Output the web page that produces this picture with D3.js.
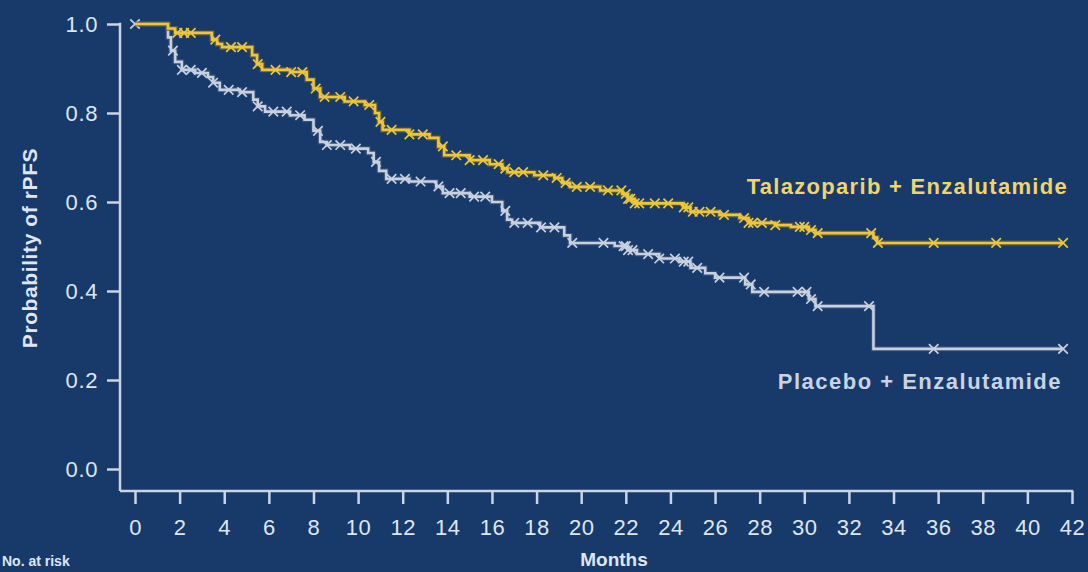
<!DOCTYPE html>
<html>
<head>
<meta charset="utf-8">
<script src="https://cdn.jsdelivr.net/npm/d3@7"></script>
<style>
  html, body { margin: 0; padding: 0; background: #173a6b; }
  svg { display: block; }
  text { font-family: "Liberation Sans", Arial, sans-serif; }
</style>
</head>
<body>
<svg id="chart" width="1088" height="572"></svg>
<script>
// Axis ticks
const monthTicks = d3.range(0, 43, 2);
const probTicks = [0.0, 0.2, 0.4, 0.6, 0.8, 1.0];

// Talazoparib + Enzalutamide: event times (months) and survival after each event
const talaEventMonths = [1.48, 1.8, 3.45, 3.68, 3.9, 5.25, 5.47, 5.7, 6.95, 7.7, 8.0, 8.3, 9.4, 10.3,
  10.76, 10.94, 11.1, 12.3, 13.2, 13.6, 13.86, 15.0, 15.9, 16.46, 16.7, 17.9, 18.8, 19.15, 19.5,
  20.85, 21.84, 22.1, 22.4, 24.57, 24.9, 26.2, 27.1, 27.5, 28.7, 29.4, 30.2, 30.5, 33.1, 33.27];
const talaSurvival = [0.99, 0.98, 0.965, 0.955, 0.948, 0.93, 0.91, 0.897, 0.892, 0.875, 0.855, 0.836, 0.826, 0.818,
  0.80, 0.78, 0.762, 0.752, 0.744, 0.725, 0.705, 0.694, 0.685, 0.675, 0.667, 0.66, 0.654, 0.643, 0.634,
  0.626, 0.618, 0.607, 0.597, 0.588, 0.578, 0.571, 0.564, 0.553, 0.548, 0.544, 0.537, 0.530, 0.520, 0.508];
const talaCensorMonths = [1.9, 2.2, 2.5, 3.6, 4.3, 4.8, 5.5, 6.3, 7.0, 7.5, 8.1, 8.5, 9.2, 9.8, 10.5, 11.0,
  11.5, 12.3, 12.9, 13.8, 14.4, 15.0, 15.6, 16.3, 16.6, 17.0, 17.4, 18.3, 18.9, 19.3, 19.8, 20.4, 21.2,
  21.8, 22.0, 22.1, 22.2, 22.4, 22.6, 23.3, 23.9, 24.6, 24.8, 25.0, 25.3, 25.8, 26.4, 27.3, 27.5, 27.7,
  28.1, 28.7, 29.8, 30.0, 30.3, 30.6, 33.0, 33.3, 35.8, 38.6, 41.6];

// Placebo + Enzalutamide
const placEventMonths = [1.48, 1.61, 1.8, 2.1, 2.7, 3.27, 3.5, 3.8, 4.7, 5.3, 5.5, 5.83, 6.95, 7.6, 8.0, 8.3,
  8.6, 9.64, 10.45, 10.7, 10.94, 11.26, 12.3, 13.5, 13.8, 15.0, 16.0, 16.46, 16.68, 16.9, 18.16, 19.24,
  19.5, 21.5, 22.1, 22.5, 23.5, 24.4, 24.9, 25.56, 26.0, 27.35, 27.67, 30.2, 30.5, 33.1];
const placSurvival = [0.97, 0.94, 0.915, 0.897, 0.89, 0.881, 0.868, 0.852, 0.847, 0.83, 0.815, 0.803, 0.795, 0.785, 0.76, 0.735,
  0.728, 0.72, 0.71, 0.69, 0.67, 0.652, 0.646, 0.635, 0.62, 0.612, 0.60, 0.58, 0.56, 0.553, 0.543, 0.525,
  0.508, 0.501, 0.492, 0.483, 0.473, 0.466, 0.452, 0.44, 0.43, 0.415, 0.398, 0.382, 0.366, 0.270];
const placCensorMonths = [0, 1.7, 2.1, 2.5, 3.0, 3.5, 4.2, 4.8, 5.5, 6.2, 6.8, 7.4, 8.2, 8.6, 9.2, 9.9, 10.8,
  11.5, 12.1, 12.8, 13.6, 14.1, 14.6, 15.2, 15.7, 16.6, 17.0, 17.6, 18.2, 18.8, 19.6, 21.0, 21.9, 22.0,
  22.1, 22.3, 23.0, 23.5, 24.2, 24.6, 24.8, 25.2, 26.2, 27.3, 27.6, 28.2, 29.7, 30.1, 30.3, 30.6, 32.9,
  35.8, 41.6];

const lastFollowUp = 41.6;

const svg = d3.select("#chart");
const W = 1088, H = 572;
svg.append("rect").attr("width", W).attr("height", H).attr("fill", "#173a6b");

const x = d3.scaleLinear().domain([0, 42]).range([135, 1072]);
const y = d3.scaleLinear().domain([0, 1]).range([469, 24]);

const axisColor = "#c9d4e6";
const textColor = "#dfe6f1";
const axisX = 120, axisY = 491;
const fontFamily = "Liberation Sans, Arial, sans-serif";

// Y axis
const gy = svg.append("g").attr("transform", `translate(${axisX},0)`)
  .call(d3.axisLeft(y).tickValues(probTicks).tickFormat(d3.format(".1f")).tickSize(13).tickPadding(9));
gy.select(".domain").remove();
gy.selectAll(".tick line").attr("stroke", axisColor).attr("stroke-width", 2.5);
gy.selectAll(".tick text").attr("fill", textColor).attr("font-size", 22)
  .attr("letter-spacing", 0.6).attr("font-family", fontFamily);
svg.append("line").attr("x1", axisX).attr("x2", axisX).attr("y1", y(1) - 1.2).attr("y2", axisY)
  .attr("stroke", axisColor).attr("stroke-width", 2.5);

// X axis
const gx = svg.append("g").attr("transform", `translate(0,${axisY})`)
  .call(d3.axisBottom(x).tickValues(monthTicks).tickSize(13).tickPadding(15));
gx.select(".domain").remove();
gx.selectAll(".tick line").attr("stroke", axisColor).attr("stroke-width", 2.5);
gx.selectAll(".tick text").attr("fill", textColor).attr("font-size", 22)
  .attr("letter-spacing", 0.5).attr("font-family", fontFamily);
svg.append("line").attr("x1", axisX).attr("x2", x(42) + 1.2).attr("y1", axisY).attr("y2", axisY)
  .attr("stroke", axisColor).attr("stroke-width", 2.5);

// Axis titles
svg.append("text").attr("x", 614).attr("y", 566).attr("text-anchor", "middle")
  .attr("font-size", 19).attr("font-weight", "bold").attr("fill", textColor).text("Months");
svg.append("text").attr("transform", "translate(37,248) rotate(-90)").attr("text-anchor", "middle")
  .attr("font-size", 21).attr("font-weight", "bold").attr("letter-spacing", 0.6)
  .attr("fill", textColor).text("Probability of rPFS");
svg.append("text").attr("x", 2).attr("y", 566).attr("text-anchor", "start")
  .attr("font-size", 14).attr("font-weight", "bold").attr("fill", textColor).text("No. at risk");

// Kaplan-Meier step curves
function kmPoints(months, surv) {
  const pts = [[0, 1]];
  months.forEach((m, i) => pts.push([m, surv[i]]));
  pts.push([lastFollowUp, surv[surv.length - 1]]);
  return pts;
}
function survivalAt(months, surv, t) {
  const i = d3.bisectRight(months, t);
  return i === 0 ? 1 : surv[i - 1];
}
const stepLine = d3.line().x(d => x(d[0])).y(d => y(d[1])).curve(d3.curveStepAfter);
const cross = d3.symbol().type(d3.symbolX).size(60);

const groups = [
  { months: placEventMonths, surv: placSurvival, censor: placCensorMonths, color: "#c7d1df", halo: "#3d5479" },
  { months: talaEventMonths, surv: talaSurvival, censor: talaCensorMonths, color: "#ecc63e", halo: "#6e6236" }
];

groups.forEach(g => {
  const pts = kmPoints(g.months, g.surv);
  const grp = svg.append("g");
  grp.append("path").attr("d", stepLine(pts)).attr("fill", "none")
    .attr("stroke", g.halo).attr("stroke-width", 5).attr("stroke-opacity", 0.8);
  grp.append("path").attr("d", stepLine(pts)).attr("fill", "none")
    .attr("stroke", g.color).attr("stroke-width", 2.6);
  grp.selectAll("path.cens").data(g.censor).join("path").attr("class", "cens")
    .attr("d", cross)
    .attr("transform", t => `translate(${x(t)},${y(survivalAt(g.months, g.surv, t))})`)
    .attr("fill", "none").attr("stroke", g.color).attr("stroke-width", 1.7);
});

// Series labels
svg.append("text").attr("x", 1068).attr("y", 194).attr("text-anchor", "end")
  .attr("font-size", 22).attr("font-weight", "bold").attr("letter-spacing", 1.3).attr("fill", "#f0d46c")
  .text("Talazoparib + Enzalutamide");
svg.append("text").attr("x", 1062).attr("y", 389).attr("text-anchor", "end")
  .attr("font-size", 22).attr("font-weight", "bold").attr("letter-spacing", 1.5).attr("fill", "#c9d3e2")
  .text("Placebo + Enzalutamide");
</script>
</body>
</html>
